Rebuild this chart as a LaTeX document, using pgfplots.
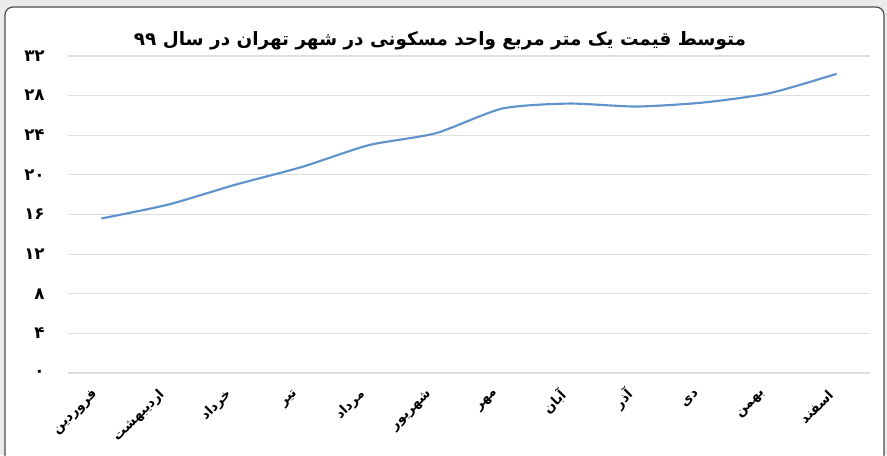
\documentclass[border=0pt]{standalone}
\usepackage{fontspec}
\usepackage{pgfplots}
\pgfplotsset{compat=1.18}
\TeXXeTstate=1
\newfontfamily\arabicfont[Script=Arabic]{DejaVu Sans}
\newcommand\fa[1]{{\arabicfont\bfseries\beginR #1\endR}}
\definecolor{linecol}{RGB}{96,146,204}
\begin{document}
\begin{tikzpicture}[x=0.75pt,y=0.75pt]
\useasboundingbox (0,0) rectangle (887,455);
\fill[black!8] (0,0) rectangle (887,455);
\begin{scope}
\clip (0,0) rectangle (887,455);
\draw[fill=white, draw=black!70, line width=0.9pt, rounded corners=6pt] (5,-20) rectangle (884,448);
\end{scope}
\begin{axis}[
  at={(51pt,61.5pt)}, anchor=south west,
  scale only axis, width=601.5pt, height=237.75pt,
  xmin=-0.5, xmax=11.5, ymin=0, ymax=32,
  clip=false,
  axis line style={draw=none},
  tick style={draw=none},
  ymajorgrids, grid style={black!13, line width=0.8pt},
  ytick={0,4,8,12,16,20,24,28,32},
  yticklabels={۰,۴,۸,۱۲,۱۶,۲۰,۲۴,۲۸,۳۲},
  yticklabel style={font=\arabicfont\bfseries\fontsize{12.5}{13}\selectfont, anchor=east, xshift=-14pt},
  xtick={0,1,2,3,4,5,6,7,8,9,10,11},
  xticklabels={\fa{فروردین},\fa{اردیبهشت},\fa{خرداد},\fa{تیر},\fa{مرداد},\fa{شهریور},\fa{مهر},\fa{آبان},\fa{آذر},\fa{دی},\fa{بهمن},\fa{اسفند}},
  xticklabel style={font=\fontsize{10}{11}\selectfont, anchor=east, xshift=-2pt, yshift=-12pt, rotate=45},
]
\addplot[smooth, tension=0.4, color=linecol, line width=1.6pt] coordinates {
(0,15.6) (1,17.0) (2,19.0) (3,20.8) (4,23.0) (5,24.2) (6,26.7) (7,27.2) (8,26.9) (9,27.3) (10,28.25) (11,30.2)
};
\end{axis}
\node[font=\fontsize{13.8}{15}\selectfont] at (440,414) {\fa{متوسط قیمت یک متر مربع واحد مسکونی در شهر تهران در سال ۹۹}};
\end{tikzpicture}
\end{document}
